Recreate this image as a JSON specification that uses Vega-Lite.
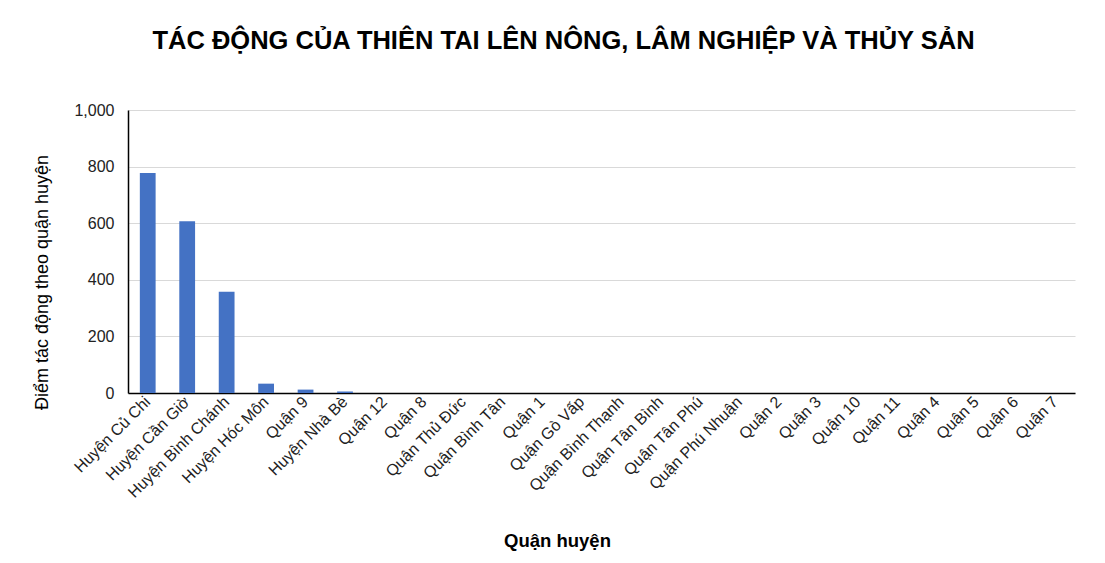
{
  "$schema": "https://vega.github.io/schema/vega-lite/v6.json",
  "autosize": {"type": "none"},
  "width": 947,
  "height": 283,
  "padding": {"left": 128, "top": 110, "right": 30, "bottom": 170},
  "background": "white",
  "config": {
    "font": "Liberation Sans",
    "view": {"stroke": null}
  },
  "title": {
    "text": "TÁC ĐỘNG CỦA THIÊN TAI LÊN NÔNG, LÂM NGHIỆP VÀ THỦY SẢN",
    "font": "Liberation Sans",
    "fontSize": 25.5,
    "fontWeight": "bold",
    "color": "#000000",
    "anchor": "middle",
    "dx": -38,
    "offset": 48
  },
  "data": {
    "values": [
      {"district": "Huyện Củ Chi", "value": 777},
      {"district": "Huyện Cần Giờ", "value": 607},
      {"district": "Huyện Bình Chánh", "value": 358},
      {"district": "Huyện Hóc Môn", "value": 33},
      {"district": "Quận 9", "value": 12},
      {"district": "Huyện Nhà Bè", "value": 5},
      {"district": "Quận 12", "value": 0},
      {"district": "Quận 8", "value": 0},
      {"district": "Quận Thủ Đức", "value": 0},
      {"district": "Quận Bình Tân", "value": 0},
      {"district": "Quận 1", "value": 0},
      {"district": "Quận Gò Vấp", "value": 0},
      {"district": "Quận Bình Thạnh", "value": 0},
      {"district": "Quận Tân Bình", "value": 0},
      {"district": "Quận Tân Phú", "value": 0},
      {"district": "Quận Phú Nhuận", "value": 0},
      {"district": "Quận 2", "value": 0},
      {"district": "Quận 3", "value": 0},
      {"district": "Quận 10", "value": 0},
      {"district": "Quận 11", "value": 0},
      {"district": "Quận 4", "value": 0},
      {"district": "Quận 5", "value": 0},
      {"district": "Quận 6", "value": 0},
      {"district": "Quận 7", "value": 0}
    ]
  },
  "mark": {"type": "bar", "color": "#4472C4"},
  "encoding": {
    "x": {
      "field": "district",
      "type": "nominal",
      "sort": null,
      "scale": {"paddingInner": 0.6, "paddingOuter": 0.3},
      "axis": {
        "title": "Quận huyện",
        "titleFont": "Liberation Sans",
        "titleFontSize": 18.5,
        "titleFontWeight": "bold",
        "titleColor": "#000000",
        "titleX": 429,
        "titleY": 147,
        "titleBaseline": "middle",
        "labelAngle": -45,
        "labelAlign": "right",
        "labelBaseline": "middle",
        "labelFontSize": 16,
        "labelColor": "#222222",
        "labelPadding": 6,
        "ticks": false,
        "domainColor": "#000000",
        "domainWidth": 1.5
      }
    },
    "y": {
      "field": "value",
      "type": "quantitative",
      "scale": {"domain": [0, 1000]},
      "axis": {
        "title": "Điểm tác động theo quận huyện",
        "titleFont": "Liberation Sans",
        "titleFontSize": 18,
        "titleFontWeight": "normal",
        "titleColor": "#000000",
        "titleX": -86,
        "titleY": 172,
        "titleAlign": "center",
        "titleBaseline": "middle",
        "titleAngle": -90,
        "values": [0, 200, 400, 600, 800, 1000],
        "format": ",.0f",
        "labelFontSize": 16,
        "labelColor": "#222222",
        "labelPadding": 14,
        "ticks": false,
        "domainColor": "#000000",
        "domainWidth": 1.5,
        "gridColor": "#d9d9d9"
      }
    }
  }
}
